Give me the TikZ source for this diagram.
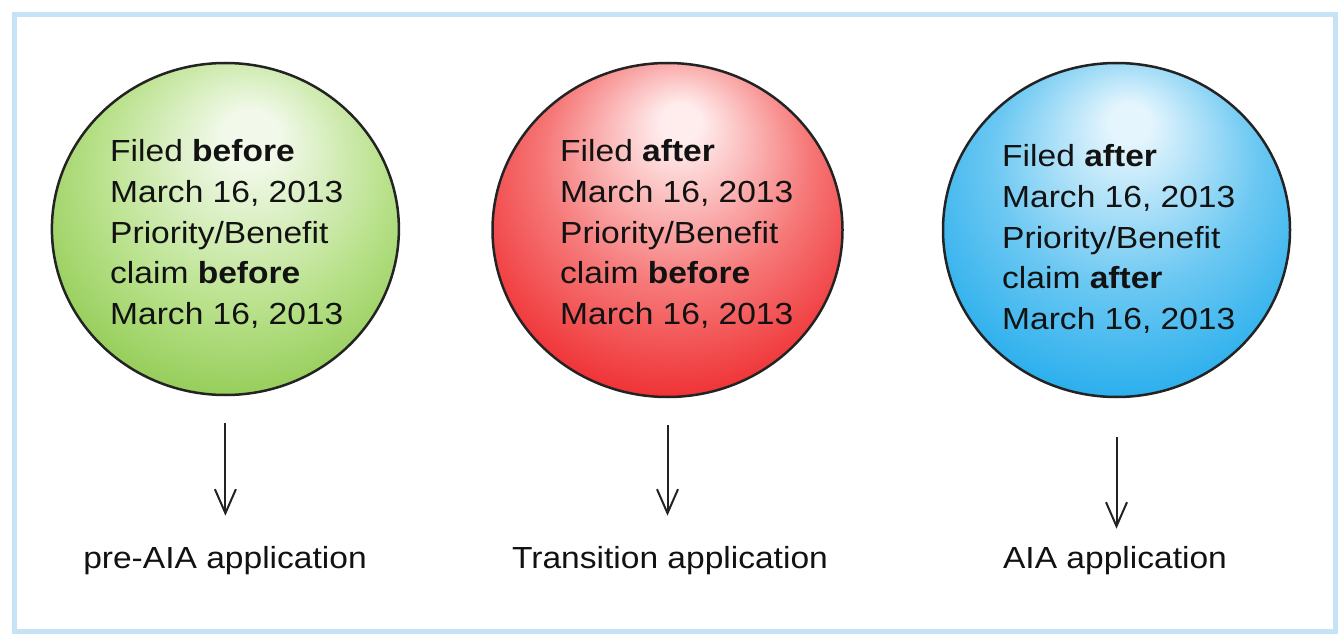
\documentclass[tikz,border=0pt]{standalone}
\usepackage{fontspec}
\setmainfont{Liberation Sans}[FakeStretch=1.1]
\usetikzlibrary{arrows.meta,shapes.geometric}
\definecolor{frameblue}{RGB}{198,226,246}
\definecolor{inkc}{RGB}{18,18,18}
\definecolor{rimc}{RGB}{35,35,35}
\definecolor{gHi}{RGB}{242,249,234}
\definecolor{gMid}{RGB}{184,225,138}
\definecolor{gOut}{RGB}{140,200,76}
\definecolor{rHi}{RGB}{255,236,236}
\definecolor{rMid}{RGB}{246,120,120}
\definecolor{rOut}{RGB}{238,36,40}
\definecolor{bHi}{RGB}{228,245,253}
\definecolor{bMid}{RGB}{108,200,242}
\definecolor{bOut}{RGB}{30,170,236}
\pgfdeclareradialshading{greenball}{\pgfpoint{4bp}{15bp}}{color(0bp)=(gHi); color(4bp)=(gHi); color(21bp)=(gMid); color(34bp)=(gOut); color(50bp)=(gOut)}
\pgfdeclareradialshading{redball}{\pgfpoint{2bp}{17bp}}{color(0bp)=(rHi); color(3bp)=(rHi); color(19bp)=(rMid); color(34bp)=(rOut); color(50bp)=(rOut)}
\pgfdeclareradialshading{blueball}{\pgfpoint{2bp}{17bp}}{color(0bp)=(bHi); color(3bp)=(bHi); color(19bp)=(bMid); color(34bp)=(bOut); color(50bp)=(bOut)}
\tikzset{
  ball/.style={ellipse, inner sep=0pt, draw=rimc, line width=2.5pt},
  circtext/.style={anchor=base west, inner sep=0pt, text=inkc, font=\fontsize{30.5}{40.6}\selectfont},
  lbl/.style={anchor=base, inner sep=0pt, text=inkc, font=\fontsize{30.5}{40.6}\selectfont},
  arr/.style={draw=rimc, line width=2pt, -{Straight Barb[length=24pt,width=21pt]}}
}
\begin{document}
\begin{tikzpicture}[x=1pt,y=-1pt]
\useasboundingbox (0,0) rectangle (1344,639);
\fill[white] (0,0) rectangle (1344,639);
\draw[frameblue, line width=5pt] (14.5,14.5) rectangle (1335.5,631.5);

\node[ball, shading=greenball, minimum width=347pt, minimum height=332pt] (g) at (225.4,229) {};
\node[ball, shading=redball, minimum width=350pt, minimum height=334pt] (r) at (667.5,230) {};
\node[ball, shading=blueball, minimum width=347pt, minimum height=334pt] (b) at (1116.5,230) {};

\node[circtext] (gt) at (110,162) {\begin{tabular}[t]{@{}l@{}}Filed \textbf{before}\\March 16, 2013\\Priority/Benefit\\claim \textbf{before}\\March 16, 2013\end{tabular}};
\node[circtext] (rt) at (560,162) {\begin{tabular}[t]{@{}l@{}}Filed \textbf{after}\\March 16, 2013\\Priority/Benefit\\claim \textbf{before}\\March 16, 2013\end{tabular}};
\node[circtext] (bt) at (1002,167) {\begin{tabular}[t]{@{}l@{}}Filed \textbf{after}\\March 16, 2013\\Priority/Benefit\\claim \textbf{after}\\March 16, 2013\end{tabular}};

\node[lbl] (gl) at (225,568) {pre-AIA application};
\node[lbl] (rl) at (670,568) {Transition application};
\node[lbl] (bl) at (1115,568) {AIA application};

\draw[arr, shorten <=27pt, shorten >=30pt] (g.south) -- (g.south |- gl.north);
\draw[arr, shorten <=27pt, shorten >=30pt] (r.south) -- (r.south |- rl.north);
\draw[arr, shorten <=39pt, shorten >=17pt] (b.south) -- (b.south |- bl.north);
\end{tikzpicture}
\end{document}
